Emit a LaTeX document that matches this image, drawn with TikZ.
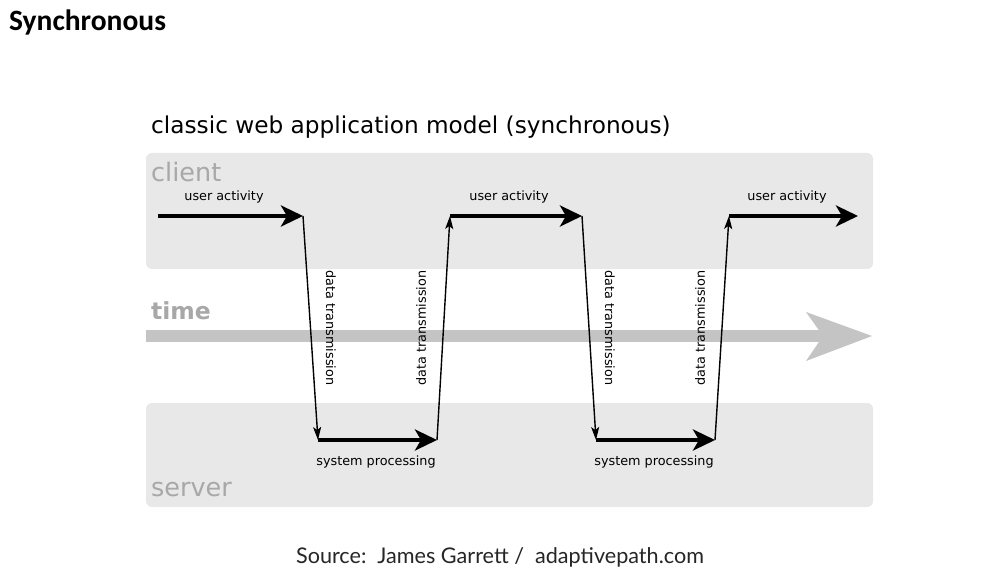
\documentclass[tikz,border=0pt]{standalone}
\usepackage{fontspec}
\setmainfont{DejaVu Sans}
\newfontfamily\headfont{Carlito}
\newfontfamily\srcfont{Lato}
\usetikzlibrary{arrows.meta}
\definecolor{boxgray}{HTML}{E8E8E8}
\definecolor{lblgray}{HTML}{A8A8A8}
\definecolor{timegray}{HTML}{C4C4C4}
\tikzset{
  lane/.style={fill=boxgray, draw=none, rounded corners=6pt},
  lanelabel/.style={text=lblgray, font=\fontsize{25.5}{28}\selectfont, inner sep=0pt, anchor=west},
  thickarrow/.style={line width=4pt, -{Stealth[length=22pt, width=21pt, inset=6pt]}},
  thinarrow/.style={line width=1.4pt, -{Stealth[length=13pt, width=8pt, inset=3pt]}},
  lbl/.style={font=\fontsize{12.8}{14}\selectfont, inner sep=0pt, text=black},
}
\begin{document}
\begin{tikzpicture}[x=1pt, y=-1pt]
\useasboundingbox (0,0) rectangle (1004,585);
\fill[white] (0,0) rectangle (1004,585);

% headings
\node[anchor=west, inner sep=0pt, font=\headfont\bfseries\fontsize{29.5}{32}\selectfont] (head) at (9,22) {Synchronous};
\node[anchor=west, inner sep=0pt, font=\fontsize{23.2}{26}\selectfont] (title) at (151,127) {classic web application model (synchronous)};

% lanes
\path[lane] (146,153) rectangle (873,269);
\path[lane] (146,403) rectangle (873,507);
\node[lanelabel] (client) at (151,172) {client};
\node[lanelabel] (server) at (151,490) {server};
\node[lanelabel, font=\bfseries\fontsize{23.5}{26}\selectfont] (time) at (151,311) {time};

% time arrow
\fill[timegray] (146,330) rectangle (825,342);
\fill[timegray] (872,336) -- (806,312) -- (823,336) -- (806,361) -- cycle;

% flow points
\coordinate (c0) at (158,216);
\coordinate (c1) at (303,216);
\coordinate (s1) at (318,440);
\coordinate (s2) at (437,440);
\coordinate (c2) at (450,216);
\coordinate (c3) at (582,216);
\coordinate (s3) at (596,440);
\coordinate (s4) at (715,440);
\coordinate (c4) at (729,216);
\coordinate (c5) at (858,216);

\draw[thickarrow] (c0) -- (c1);
\draw[thinarrow] (c1) -- (s1);
\draw[thickarrow] (s1) -- (s2);
\draw[thinarrow] (s2) -- (c2);
\draw[thickarrow] (c2) -- (c3);
\draw[thinarrow] (c3) -- (s3);
\draw[thickarrow] (s3) -- (s4);
\draw[thinarrow] (s4) -- (c4);
\draw[thickarrow] (c4) -- (c5);

% labels
\node[lbl] (ua1) at (224,197) {user activity};
\node[lbl] (ua2) at (509,197) {user activity};
\node[lbl] (ua3) at (787,197) {user activity};
\node[lbl] (sp1) at (376,462) {system processing};
\node[lbl] (sp2) at (654,462) {system processing};
\node[lbl, rotate=-90] (dt1) at (331,328) {data transmission};
\node[lbl, rotate=90] (dt2) at (421,328) {data transmission};
\node[lbl, rotate=-90] (dt3) at (610,328) {data transmission};
\node[lbl, rotate=90] (dt4) at (700,328) {data transmission};

% source
\node[inner sep=0pt, font=\srcfont\fontsize{21.6}{25}\selectfont, text=black!85] (src) at (500,557) {Source:\ \ James Garrett /\ \ adaptivepath.com};
\end{tikzpicture}
\end{document}
